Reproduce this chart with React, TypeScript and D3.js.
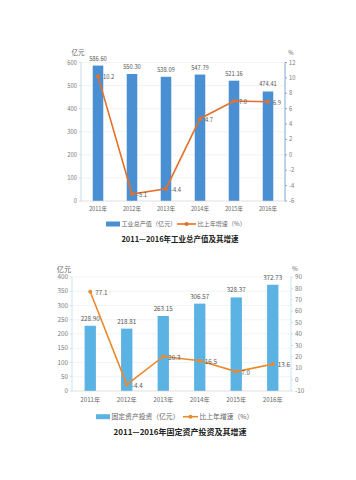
import React from "react";
import * as d3 from "d3";

const years = ["2011年", "2012年", "2013年", "2014年", "2015年", "2016年"];
const outputValues = [586.6, 550.3, 538.09, 547.79, 521.16, 474.41];
const outputGrowth = [10.2, -5.1, -4.4, 4.7, 7.0, 6.9];
const investValues = [228.9, 218.81, 263.15, 306.57, 328.37, 372.73];
const investGrowth = [77.1, -4.4, 20.3, 16.5, 7.0, 13.6];
const leftTicks1 = [0, 100, 200, 300, 400, 500, 600];
const rightTicks1 = [-6, -4, -2, 0, 2, 4, 6, 8, 10, 12];
const leftTicks2 = [0, 50, 100, 150, 200, 250, 300, 350, 400];
const rightTicks2 = [-10, 0, 10, 20, 30, 40, 50, 60, 70, 80, 90];
const title1 = "2011—2016年工业总产值及其增速";
const title2 = "2011—2016年固定资产投资及其增速";
const barName1 = "工业总产值（亿元）";
const barName2 = "固定资产投资（亿元）";
const lineName = "比上年增速（%）";

const FONT = "'Noto Sans CJK SC', 'Noto Sans', sans-serif";

type Cfg = {
  x0: number; x1: number; yTop: number; yBot: number;
  leftTicks: number[]; rightTicks: number[];
  bars: number[]; line: number[];
  barColor: string; lineColor: string; axisL: string; axisR: string;
  tickFont: number; xFont: number; legFont: number; titleFont: number; unitFont: number;
  xLabelY: number; legendY: number; titleY: number; unitY: number;
  unitLX: number; unitRX: number;
  legRect: [number, number]; legLine: [number, number];
  barName: string; title: string; valueFont: number;
};

function Chart({ c }: { c: Cfg }) {
  const x = d3.scaleBand<string>().domain(years).range([c.x0, c.x1]).paddingInner(0.69).paddingOuter(0.345);
  const yL = d3.scaleLinear().domain(d3.extent(c.leftTicks) as [number, number]).range([c.yBot, c.yTop]);
  const yR = d3.scaleLinear().domain(d3.extent(c.rightTicks) as [number, number]).range([c.yBot, c.yTop]);
  const cx = (i: number) => (x(years[i]) as number) + x.bandwidth() / 2;
  const lineGen = d3.line<number>().x((_, i) => cx(i)).y((d) => yR(d));
  const tickColor = "#7a7a7a";
  return (
    <g fontFamily={FONT}>
      {c.leftTicks.map((t) => (
        <line key={"g" + t} x1={c.x0} x2={c.x1} y1={yL(t)} y2={yL(t)} stroke="#ececec" strokeWidth={0.6} />
      ))}
      {c.bars.map((v, i) => (
        <rect key={"b" + i} x={x(years[i])} y={yL(v)} width={x.bandwidth()} height={c.yBot - yL(v)} fill={c.barColor} />
      ))}
      {c.bars.map((v, i) => (
        <text key={"bv" + i} x={cx(i)} y={yL(v) - 5} textAnchor="middle" fontSize={c.valueFont} fill="#555">
          {v.toFixed(2)}
        </text>
      ))}
      <line x1={c.x0} x2={c.x0} y1={c.yTop} y2={c.yBot} stroke={c.axisL} strokeWidth={1} />
      <line x1={c.x1} x2={c.x1} y1={c.yTop} y2={c.yBot} stroke={c.axisR} strokeWidth={1} />
      <line x1={c.x0} x2={c.x1} y1={c.yBot} y2={c.yBot} stroke="#d8d8d8" strokeWidth={0.6} />
      {c.leftTicks.map((t) => (
        <g key={"l" + t}>
          <line x1={c.x0 - 2} x2={c.x0} y1={yL(t)} y2={yL(t)} stroke={c.axisL} />
          <text x={c.x0 - 4} y={yL(t)} dy="0.35em" textAnchor="end" fontSize={c.tickFont} fill={tickColor}>{t}</text>
        </g>
      ))}
      {c.rightTicks.map((t) => (
        <g key={"r" + t}>
          <line x1={c.x1} x2={c.x1 + 2} y1={yR(t)} y2={yR(t)} stroke={c.axisR} />
          <text x={c.x1 + 4} y={yR(t)} dy="0.35em" textAnchor="start" fontSize={c.tickFont} fill={tickColor}>{t}</text>
        </g>
      ))}
      <text x={c.unitLX} y={c.unitY} dy="0.35em" textAnchor="middle" fontSize={c.unitFont} fill="#666">亿元</text>
      <text x={c.unitRX} y={c.unitY} dy="0.35em" textAnchor="middle" fontSize={c.tickFont} fill="#666">%</text>
      {years.map((yr, i) => (
        <text key={"x" + i} x={cx(i)} y={c.xLabelY} dy="0.35em" textAnchor="middle" fontSize={c.xFont} fill="#666">{yr}</text>
      ))}
      <path d={lineGen(c.line) || ""} fill="none" stroke={c.lineColor} strokeWidth={1.6} />
      {c.line.map((v, i) => (
        <circle key={"p" + i} cx={cx(i)} cy={yR(v)} r={2} fill={c.lineColor} />
      ))}
      {c.line.map((v, i) => (
        <text key={"pv" + i} x={cx(i) + 5} y={yR(v) + 1} dy="0.35em" fontSize={c.valueFont} fill="#555">{v.toFixed(1)}</text>
      ))}
      <rect x={c.legRect[0]} y={c.legendY - 2.5} width={c.legRect[1] - c.legRect[0]} height={5} fill={c.barColor} />
      <text x={c.legRect[1] + 1.5} y={c.legendY} dy="0.35em" fontSize={c.legFont} fill="#666">{c.barName}</text>
      <line x1={c.legLine[0]} x2={c.legLine[1]} y1={c.legendY} y2={c.legendY} stroke={c.lineColor} strokeWidth={1.6} />
      <circle cx={(c.legLine[0] + c.legLine[1]) / 2} cy={c.legendY} r={2} fill={c.lineColor} />
      <text x={c.legLine[1] + 1.5} y={c.legendY} dy="0.35em" fontSize={c.legFont} fill="#666">{lineName}</text>
      <text x={180} y={c.titleY} dy="0.35em" textAnchor="middle" fontSize={c.titleFont} fontWeight="bold" fill="#222">{c.title}</text>
    </g>
  );
}

export default function App() {
  const c1: Cfg = {
    x0: 81, x1: 285, yTop: 62.5, yBot: 201,
    leftTicks: leftTicks1, rightTicks: rightTicks1,
    bars: outputValues, line: outputGrowth,
    barColor: "#4a8fd2", lineColor: "#e5702a", axisL: "#c7dbe8", axisR: "#7fa9d6",
    tickFont: 5.8, xFont: 5.6, legFont: 6.1, titleFont: 7.5, unitFont: 6.5, valueFont: 5.8,
    xLabelY: 209, legendY: 224, titleY: 239, unitY: 53, unitLX: 78, unitRX: 291,
    legRect: [106, 120], legLine: [177, 196], barName: barName1, title: title1,
  };
  const c2: Cfg = {
    x0: 72, x1: 291, yTop: 277, yBot: 391,
    leftTicks: leftTicks2, rightTicks: rightTicks2,
    bars: investValues, line: investGrowth,
    barColor: "#5bb3e4", lineColor: "#ea8a2f", axisL: "#c9e6f3", axisR: "#c9e6f3",
    tickFont: 6.3, xFont: 6.2, legFont: 6.8, titleFont: 8, unitFont: 7.2, valueFont: 6.3,
    xLabelY: 400, legendY: 416.7, titleY: 432, unitY: 269, unitLX: 64, unitRX: 295,
    legRect: [96, 110], legLine: [183, 198], barName: barName2, title: title2,
  };
  return (
    <svg width={356} height={480} style={{ position: "absolute", left: 0, top: 0, background: "#fff" }}>
      <rect width={356} height={480} fill="#fff" />
      <Chart c={c1} />
      <Chart c={c2} />
    </svg>
  );
}
